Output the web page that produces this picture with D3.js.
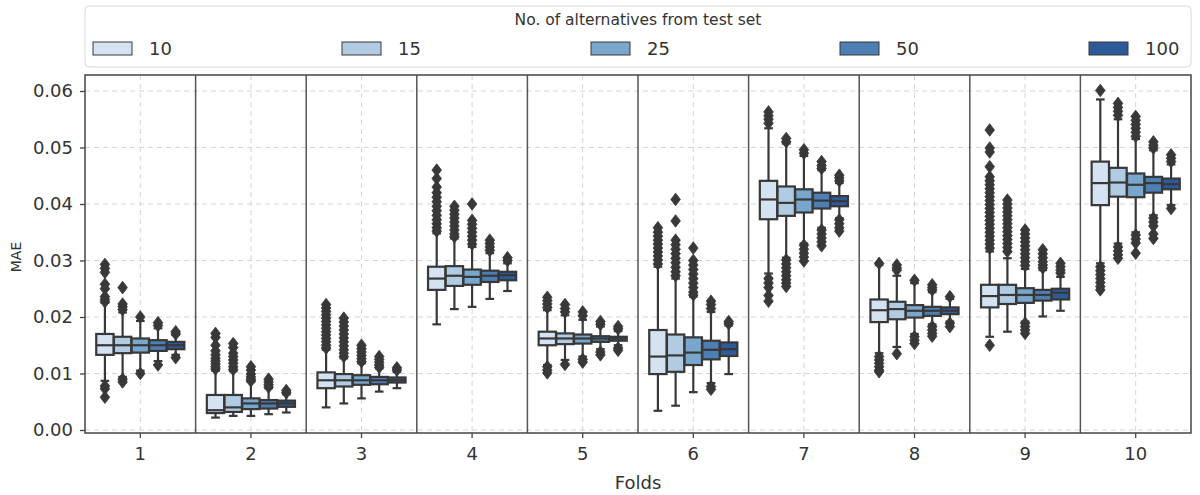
<!DOCTYPE html>
<html>
<head>
<meta charset="utf-8">
<script src="https://cdn.jsdelivr.net/npm/d3@7"></script>
<style>
  body { margin: 0; background: #fff; }
  svg { font-family: "DejaVu Sans", sans-serif; }
</style>
</head>
<body>
<div class="center"></div>
<script>
const w = 1200;
const h = 495;

const folds = ["1", "2", "3", "4", "5", "6", "7", "8", "9", "10"];
const hues = ["10", "15", "25", "50", "100"];
const colors = ["#d5e2f1", "#b0cbe2", "#78a6cc", "#4d7fb4", "#2d5b9a"];
const yTicks = [0, 0.01, 0.02, 0.03, 0.04, 0.05, 0.06];

// one row per fold, one value per hue
const lo = [
  [0.0087, 0.0094, 0.0105, 0.0122, 0.0133],
  [0.0022, 0.0025, 0.0025, 0.0028, 0.0031],
  [0.0040, 0.0047, 0.0056, 0.0068, 0.0074],
  [0.0187, 0.0214, 0.0218, 0.0232, 0.0246],
  [0.0115, 0.0124, 0.0130, 0.0143, 0.0150],
  [0.0034, 0.0043, 0.0067, 0.0083, 0.0099],
  [0.0277, 0.0305, 0.0330, 0.0358, 0.0375],
  [0.0136, 0.0147, 0.0170, 0.0187, 0.0192],
  [0.0165, 0.0174, 0.0192, 0.0201, 0.0211],
  [0.0295, 0.0330, 0.0350, 0.0380, 0.0398]
];
const q1 = [
  [0.0133, 0.0136, 0.0137, 0.0140, 0.0143],
  [0.0030, 0.0032, 0.0037, 0.0038, 0.0041],
  [0.0074, 0.0077, 0.0080, 0.0081, 0.0084],
  [0.0248, 0.0255, 0.0257, 0.0262, 0.0265],
  [0.0150, 0.0152, 0.0153, 0.0156, 0.0158],
  [0.0099, 0.0103, 0.0115, 0.0125, 0.0131],
  [0.0373, 0.0379, 0.0385, 0.0392, 0.0396],
  [0.0191, 0.0196, 0.0199, 0.0202, 0.0205],
  [0.0217, 0.0223, 0.0225, 0.0229, 0.0231],
  [0.0398, 0.0413, 0.0412, 0.0420, 0.0426]
];
const med = [
  [0.0150, 0.0150, 0.0150, 0.0150, 0.0150],
  [0.0035, 0.0040, 0.0047, 0.0047, 0.0047],
  [0.0088, 0.0088, 0.0088, 0.0088, 0.0088],
  [0.0268, 0.0273, 0.0271, 0.0273, 0.0274],
  [0.0162, 0.0162, 0.0162, 0.0162, 0.0162],
  [0.0130, 0.0132, 0.0137, 0.0142, 0.0143],
  [0.0408, 0.0402, 0.0408, 0.0406, 0.0405],
  [0.0212, 0.0214, 0.0211, 0.0211, 0.0211],
  [0.0237, 0.0239, 0.0239, 0.0239, 0.0243],
  [0.0437, 0.0438, 0.0434, 0.0437, 0.0435]
];
const q3 = [
  [0.0170, 0.0165, 0.0162, 0.0159, 0.0156],
  [0.0062, 0.0062, 0.0056, 0.0053, 0.0052],
  [0.0102, 0.0099, 0.0097, 0.0094, 0.0093],
  [0.0289, 0.0290, 0.0284, 0.0282, 0.0280],
  [0.0174, 0.0171, 0.0169, 0.0166, 0.0165],
  [0.0177, 0.0169, 0.0164, 0.0158, 0.0155],
  [0.0441, 0.0431, 0.0426, 0.0420, 0.0414],
  [0.0231, 0.0227, 0.0221, 0.0218, 0.0217],
  [0.0257, 0.0257, 0.0251, 0.0248, 0.0250],
  [0.0475, 0.0464, 0.0454, 0.0448, 0.0445]
];
const hi = [
  [0.0225, 0.0208, 0.0193, 0.0180, 0.0168],
  [0.0105, 0.0104, 0.0085, 0.0074, 0.0063],
  [0.0142, 0.0127, 0.0118, 0.0109, 0.0103],
  [0.0348, 0.0339, 0.0324, 0.0313, 0.0295],
  [0.0212, 0.0203, 0.0195, 0.0183, 0.0175],
  [0.0289, 0.0268, 0.0236, 0.0209, 0.0185],
  [0.0534, 0.0507, 0.0485, 0.0460, 0.0437],
  [0.0292, 0.0273, 0.0260, 0.0244, 0.0232],
  [0.0316, 0.0304, 0.0285, 0.0283, 0.0271],
  [0.0585, 0.0550, 0.0515, 0.0495, 0.0470]
];
const outliers = [
  [[0.0293, 0.0286, 0.0279, 0.0258, 0.0250, 0.0236, 0.0231, 0.0227, 0.0078, 0.0073, 0.0058],
   [0.0252, 0.0223, 0.0218, 0.0213, 0.0090, 0.0085],
   [0.0200, 0.0100],
   [0.0190, 0.0185, 0.0115],
   [0.0174, 0.0170, 0.0128]],
  [[0.0171, 0.0164, 0.0150, 0.0140, 0.0133, 0.0127, 0.0122, 0.0117, 0.0112, 0.0108],
   [0.0153, 0.0146, 0.0136, 0.0130, 0.0124, 0.0118, 0.0112, 0.0107],
   [0.0112, 0.0106, 0.0099, 0.0094, 0.0090, 0.0087],
   [0.0090, 0.0085, 0.0080, 0.0076],
   [0.0070, 0.0066]],
  [[0.0222, 0.0216, 0.0210, 0.0204, 0.0198, 0.0192, 0.0186, 0.0180, 0.0174, 0.0168, 0.0162, 0.0156, 0.0150, 0.0145],
   [0.0198, 0.0191, 0.0184, 0.0177, 0.0170, 0.0163, 0.0156, 0.0149, 0.0142, 0.0136, 0.0130],
   [0.0150, 0.0144, 0.0138, 0.0132, 0.0126, 0.0121],
   [0.0130, 0.0125, 0.0120, 0.0115, 0.0111],
   [0.0110, 0.0106]],
  [[0.0460, 0.0445, 0.0430, 0.0420, 0.0412, 0.0404, 0.0396, 0.0388, 0.0380, 0.0372, 0.0365, 0.0358, 0.0352],
   [0.0396, 0.0389, 0.0382, 0.0375, 0.0368, 0.0361, 0.0354, 0.0347, 0.0342],
   [0.0400, 0.0371, 0.0364, 0.0357, 0.0350, 0.0343, 0.0336, 0.0329],
   [0.0336, 0.0330, 0.0324, 0.0318],
   [0.0305, 0.0300]],
  [[0.0235, 0.0229, 0.0223, 0.0217, 0.0112, 0.0106, 0.0101],
   [0.0222, 0.0215, 0.0209, 0.0116],
   [0.0209, 0.0202, 0.0125, 0.0120],
   [0.0192, 0.0187, 0.0138, 0.0133],
   [0.0183, 0.0179, 0.0145, 0.0141]],
  [[0.0358, 0.0350, 0.0343, 0.0336, 0.0329, 0.0322, 0.0315, 0.0308, 0.0301, 0.0294],
   [0.0408, 0.0370, 0.0336, 0.0328, 0.0320, 0.0312, 0.0304, 0.0296, 0.0288, 0.0280, 0.0273],
   [0.0322, 0.0300, 0.0292, 0.0284, 0.0276, 0.0268, 0.0260, 0.0252, 0.0244, 0.0239],
   [0.0228, 0.0222, 0.0215, 0.0077, 0.0072],
   [0.0192, 0.0188]],
  [[0.0563, 0.0556, 0.0550, 0.0543, 0.0268, 0.0260, 0.0252, 0.0238, 0.0228],
   [0.0516, 0.0510, 0.0301, 0.0294, 0.0287, 0.0280, 0.0273, 0.0266, 0.0260, 0.0254],
   [0.0496, 0.0490, 0.0327, 0.0320, 0.0313, 0.0306, 0.0299],
   [0.0475, 0.0468, 0.0463, 0.0354, 0.0347, 0.0340, 0.0333, 0.0326],
   [0.0451, 0.0446, 0.0441, 0.0372, 0.0365, 0.0358, 0.0352]],
  [[0.0295, 0.0130, 0.0124, 0.0118, 0.0112, 0.0106, 0.0103],
   [0.0292, 0.0287, 0.0283, 0.0135],
   [0.0265, 0.0165, 0.0159, 0.0153],
   [0.0257, 0.0252, 0.0248, 0.0183, 0.0177, 0.0171, 0.0166],
   [0.0236, 0.0189, 0.0183]],
  [[0.0531, 0.0499, 0.0492, 0.0466, 0.0448, 0.0441, 0.0434, 0.0427, 0.0420, 0.0413, 0.0406, 0.0399, 0.0392, 0.0385,
    0.0378, 0.0371, 0.0364, 0.0357, 0.0350, 0.0343, 0.0336, 0.0329, 0.0322, 0.0150],
   [0.0407, 0.0400, 0.0393, 0.0386, 0.0379, 0.0372, 0.0365, 0.0358, 0.0351, 0.0344, 0.0337, 0.0330, 0.0323, 0.0316],
   [0.0354, 0.0347, 0.0340, 0.0333, 0.0326, 0.0319, 0.0312, 0.0305, 0.0298, 0.0291, 0.0189, 0.0183, 0.0177, 0.0171],
   [0.0319, 0.0312, 0.0305, 0.0298, 0.0292, 0.0287],
   [0.0295, 0.0289, 0.0283, 0.0278]],
  [[0.0601, 0.0289, 0.0282, 0.0275, 0.0268, 0.0261, 0.0254, 0.0248],
   [0.0578, 0.0571, 0.0564, 0.0557, 0.0324, 0.0317, 0.0310, 0.0304],
   [0.0555, 0.0548, 0.0541, 0.0534, 0.0527, 0.0520, 0.0345, 0.0338, 0.0331, 0.0313],
   [0.0510, 0.0504, 0.0499, 0.0375, 0.0368, 0.0361, 0.0347, 0.0339],
   [0.0487, 0.0481, 0.0475, 0.0392]]
];

const margin = {left: 85, right: 9, top: 75, bottom: 62};
const ink = "#383838";
const textCol = "#333";

const svg = d3.select(".center")
    .append("svg")
    .attr("width", w)
    .attr("height", h);

const xScale = d3.scaleBand()
    .domain(folds)
    .range([margin.left, w - margin.right]);

const hueScale = d3.scaleBand()
    .domain(hues)
    .range([0.1 * xScale.bandwidth(), 0.9 * xScale.bandwidth()]);

const plotBottom = h - margin.bottom;

const yScale = d3.scaleLinear()
    .domain([-0.00053, 0.06283])
    .range([plotBottom, margin.top]);

const colorScale = d3.scaleOrdinal().domain(hues).range(colors);

// grid
svg.append("g")
    .selectAll("line")
    .data(yTicks)
    .enter()
    .append("line")
    .attr("x1", margin.left)
    .attr("x2", w - margin.right)
    .attr("y1", d => yScale(d))
    .attr("y2", d => yScale(d))
    .attr("stroke", "#d4d4d4")
    .attr("stroke-dasharray", "5,4");

svg.append("g")
    .selectAll("line")
    .data(folds)
    .enter()
    .append("line")
    .attr("x1", d => xScale(d) + xScale.bandwidth() / 2)
    .attr("x2", d => xScale(d) + xScale.bandwidth() / 2)
    .attr("y1", margin.top)
    .attr("y2", plotBottom)
    .attr("stroke", "#d4d4d4")
    .attr("stroke-dasharray", "5,4");

// separators between folds
svg.append("g")
    .selectAll("line")
    .data(folds.slice(1))
    .enter()
    .append("line")
    .attr("x1", d => xScale(d))
    .attr("x2", d => xScale(d))
    .attr("y1", margin.top)
    .attr("y2", plotBottom)
    .attr("stroke", "#555")
    .attr("stroke-width", 1.5);

// boxes
const rows = [];
folds.forEach((f, i) => {
    hues.forEach((hu, j) => {
        rows.push({fold: f, hue: hu, lo: lo[i][j], q1: q1[i][j], med: med[i][j],
                   q3: q3[i][j], hi: hi[i][j], out: outliers[i][j]});
    });
});

const boxW = hueScale.bandwidth() * 0.98;
const cx = d => xScale(d.fold) + hueScale(d.hue) + hueScale.bandwidth() / 2;

const g = svg.append("g")
    .selectAll("g")
    .data(rows)
    .enter()
    .append("g");

// whiskers
g.append("line")
    .attr("x1", cx).attr("x2", cx)
    .attr("y1", d => yScale(d.q3)).attr("y2", d => yScale(d.hi))
    .attr("stroke", ink).attr("stroke-width", 2.2);
g.append("line")
    .attr("x1", cx).attr("x2", cx)
    .attr("y1", d => yScale(d.q1)).attr("y2", d => yScale(d.lo))
    .attr("stroke", ink).attr("stroke-width", 2.2);
// caps
["hi", "lo"].forEach(k => {
    g.append("line")
        .attr("x1", d => cx(d) - boxW / 4).attr("x2", d => cx(d) + boxW / 4)
        .attr("y1", d => yScale(d[k])).attr("y2", d => yScale(d[k]))
        .attr("stroke", ink).attr("stroke-width", 2.2);
});

g.append("rect")
    .attr("x", d => cx(d) - boxW / 2)
    .attr("width", boxW)
    .attr("y", d => yScale(d.q3))
    .attr("height", d => yScale(d.q1) - yScale(d.q3))
    .attr("fill", d => colorScale(d.hue))
    .attr("stroke", ink)
    .attr("stroke-width", 2.2);

g.append("line")
    .attr("x1", d => cx(d) - boxW / 2).attr("x2", d => cx(d) + boxW / 2)
    .attr("y1", d => yScale(d.med)).attr("y2", d => yScale(d.med))
    .attr("stroke", ink).attr("stroke-width", 2.2);

// fliers
g.selectAll("path")
    .data(d => d.out.map(v => ({x: cx(d), v: v})))
    .enter()
    .append("path")
    .attr("d", "M0,-6.3L4.8,0L0,6.3L-4.8,0Z")
    .attr("transform", p => `translate(${p.x},${yScale(p.v)})`)
    .attr("fill", ink)
    .attr("stroke", ink)
    .attr("stroke-width", 0.8);

// frame
svg.append("rect")
    .attr("x", margin.left)
    .attr("y", margin.top)
    .attr("width", w - margin.left - margin.right)
    .attr("height", plotBottom - margin.top)
    .attr("fill", "none")
    .attr("stroke", "#444")
    .attr("stroke-width", 1.5);

// axes
const xAxis = d3.axisBottom(xScale).tickSize(5).tickPadding(9);
const yAxis = d3.axisLeft(yScale).tickValues(yTicks).tickFormat(d3.format(".2f")).tickSize(5).tickPadding(7);

const gx = svg.append("g")
    .attr("transform", `translate(0,${plotBottom})`)
    .call(xAxis);
const gy = svg.append("g")
    .attr("transform", `translate(${margin.left},0)`)
    .call(yAxis);

[gx, gy].forEach(a => {
    a.select(".domain").remove();
    a.selectAll(".tick line").attr("stroke", "#444").attr("stroke-width", 1.3);
    a.selectAll(".tick text")
        .attr("fill", textCol)
        .style("font-size", "18px")
        .style("font-family", "DejaVu Sans");
});

svg.append("text")
    .attr("x", (margin.left + w - margin.right) / 2)
    .attr("y", 489)
    .attr("text-anchor", "middle")
    .attr("fill", textCol)
    .style("font-size", "18px")
    .text("Folds");

svg.append("text")
    .attr("transform", `translate(21,257) rotate(-90)`)
    .attr("text-anchor", "middle")
    .attr("fill", textCol)
    .style("font-size", "14px")
    .text("MAE");

// legend
const legend = svg.append("g");
legend.append("rect")
    .attr("x", margin.left)
    .attr("y", 6)
    .attr("width", w - margin.left - margin.right)
    .attr("height", 61)
    .attr("rx", 4)
    .attr("fill", "#fff")
    .attr("stroke", "#d8d8d8");

legend.append("text")
    .attr("x", 638)
    .attr("y", 25)
    .attr("text-anchor", "middle")
    .attr("fill", textCol)
    .style("font-size", "15.5px")
    .text("No. of alternatives from test set");

const legX = d3.scaleLinear().domain([0, hues.length - 1]).range([93, 1089]);

const items = legend.selectAll("g.item")
    .data(hues)
    .enter()
    .append("g")
    .attr("class", "item")
    .attr("transform", (d, i) => `translate(${legX(i)},42)`);

items.append("rect")
    .attr("width", 39)
    .attr("height", 13)
    .attr("fill", d => colorScale(d))
    .attr("stroke", ink)
    .attr("stroke-width", 1);

items.append("text")
    .attr("x", 56)
    .attr("y", 13)
    .attr("fill", textCol)
    .style("font-size", "18px")
    .text(d => d);
</script>
</body>
</html>
